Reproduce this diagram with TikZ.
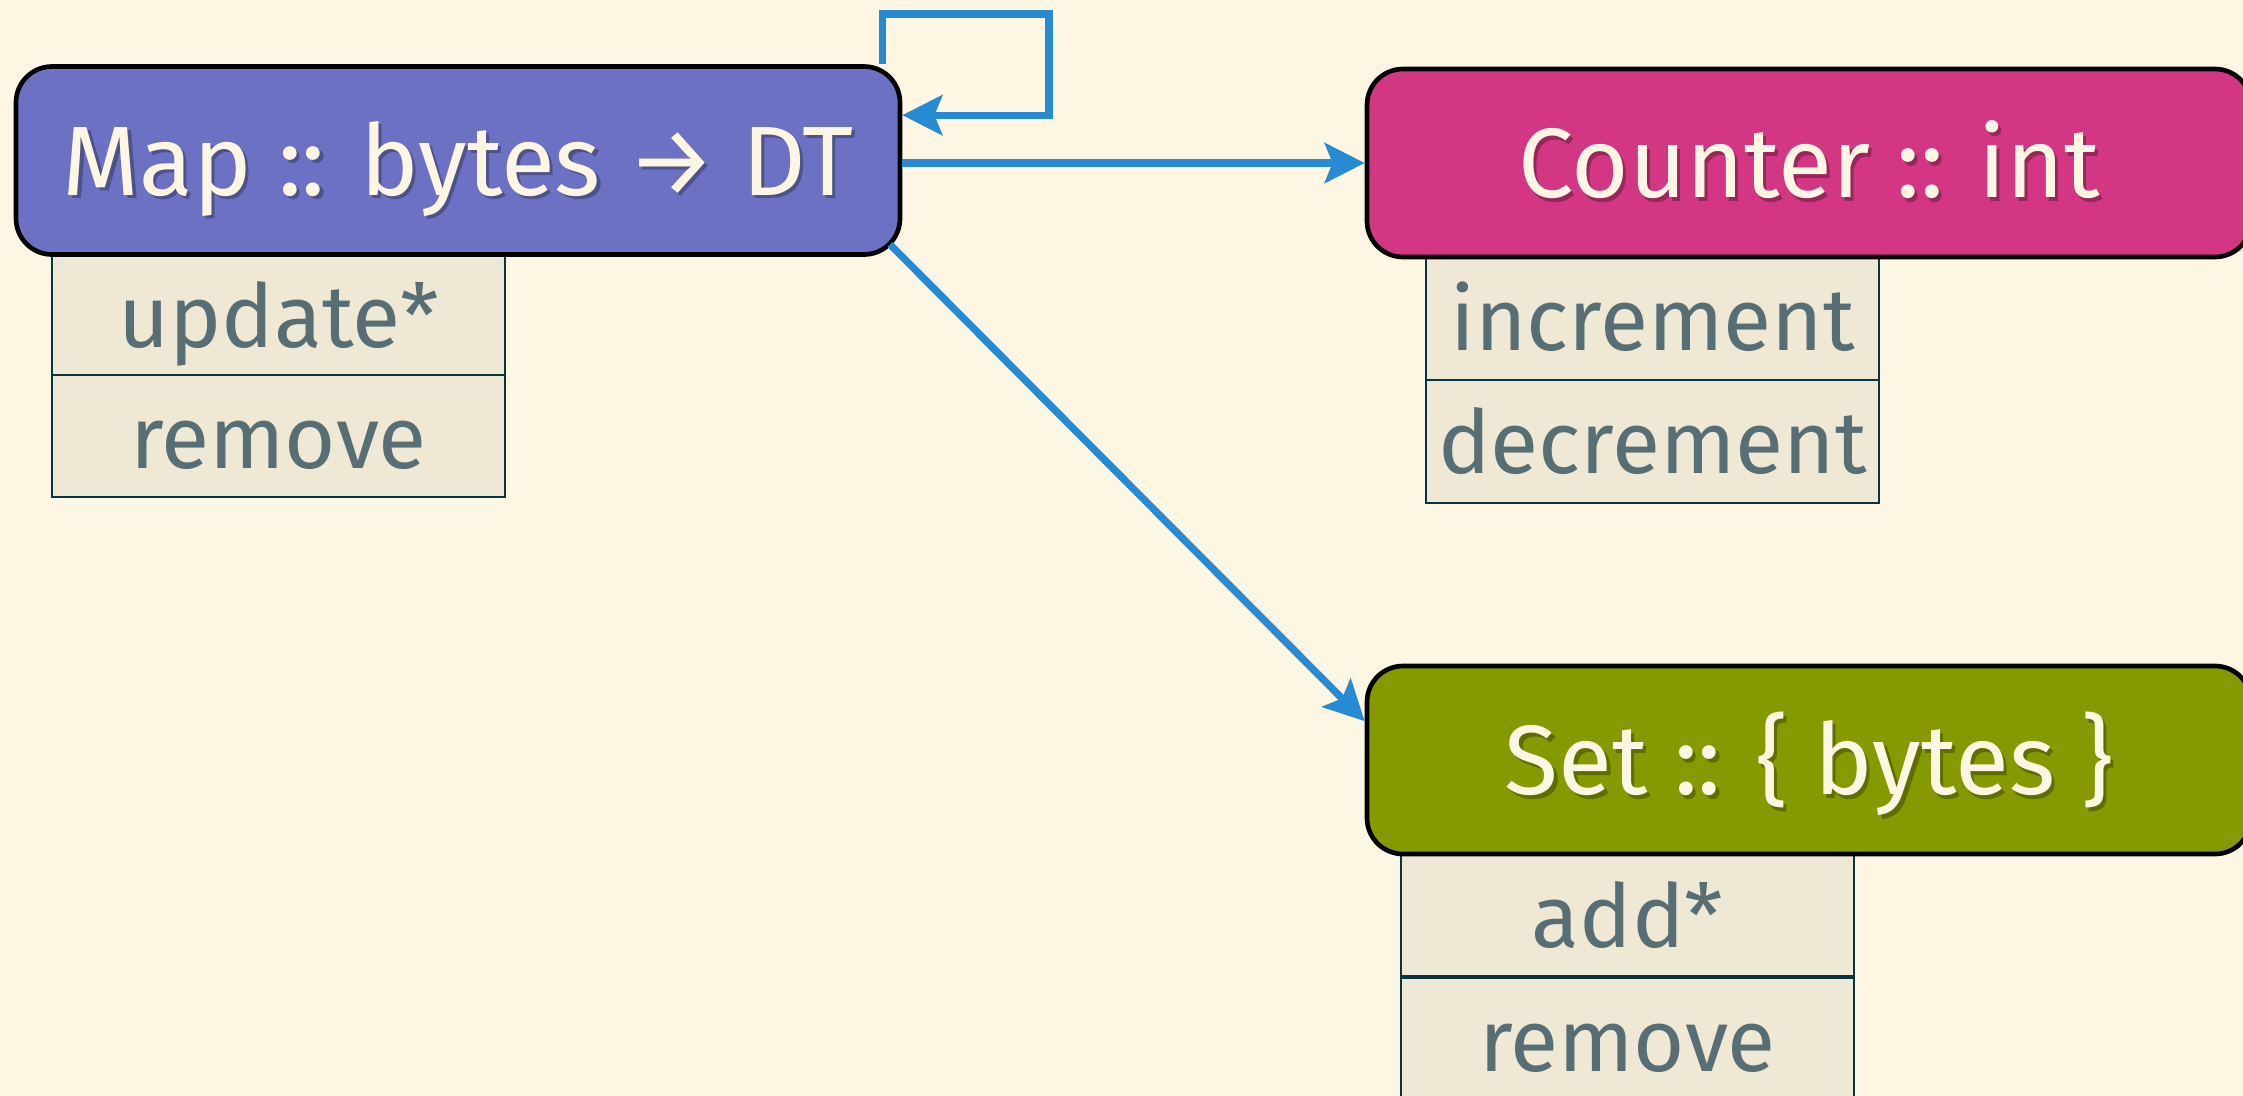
\documentclass[tikz,border=0pt]{standalone}
\usepackage{fontspec}
\setmainfont{Fira Sans}
\usetikzlibrary{arrows.meta}

\definecolor{base3}{HTML}{FDF6E3}
\definecolor{base2}{HTML}{EEE8D5}
\definecolor{base01}{HTML}{586E75}
\definecolor{base02}{HTML}{073642}
\definecolor{sblue}{HTML}{268BD2}
\definecolor{sviolet}{HTML}{6C71C4}
\definecolor{smagenta}{HTML}{D33682}
\definecolor{sgreen}{HTML}{859900}

\tikzset{every picture/.style={line width=0.75pt}}
\tikzset{
	typebox/.style={draw=black, line width=3.5pt, rounded corners=27pt,
		minimum width=663pt, minimum height=141pt, inner sep=0pt},
	typetext/.style={text=base3, font=\fontsize{74}{88}\selectfont,
		text height=66pt, text depth=14pt, inner sep=0pt},
	typeshade/.style={typetext, text=black, text opacity=0.28},
	opbox/.style={draw=base02, fill=base2, line width=1.5pt,
		minimum width=340pt, minimum height=92pt, inner sep=0pt, text=base01,
		font=\fontsize{66}{78}\selectfont, text height=62pt, text depth=14pt},
	flow/.style={draw=sblue, line width=5.5pt,
		-{Stealth[length=30pt,width=30pt,inset=6pt]}}
}

\begin{document}
\begin{tikzpicture}[x=0.75pt,y=0.75pt,yscale=-1,xscale=1]
	%Shape: Background
	\fill[base3] (0,0) rectangle (2243,1096);
	\useasboundingbox (0,0) rectangle (2243,1096);

	% Operation boxes (under the type boxes)
	\node[opbox] (mapupd) at (278.5,315) {update*};
	\node[opbox] (maprem) at (278.5,436) {remove};
	\node[opbox] (cntinc) at (1652.5,318.5) {increment};
	\node[opbox] (cntdec) at (1652.5,441.5) {decrement};
	\node[opbox] (setadd) at (1627.5,915) {add*};
	\node[opbox] (setrem) at (1627.5,1039) {remove};

	%Shape: Rounded Rectangle
	\node[typebox, fill=sviolet] (map) at (458,160.5) {};
	\node[typeshade] at ([shift={(2.5pt,2.5pt)}]map.center) {Map :: bytes → DT};
	\node[typetext] at (map.center) {Map :: bytes → DT};
	%Shape: Rounded Rectangle
	\node[typebox, fill=smagenta] (counter) at (1809,163) {};
	\node[typeshade] at ([shift={(2.5pt,2.5pt)}]counter.center) {Counter :: int};
	\node[typetext] at (counter.center) {Counter :: int};
	%Shape: Rounded Rectangle
	\node[typebox, fill=sgreen] (set) at (1809,760) {};
	\node[typeshade] at ([shift={(2.5pt,2.5pt)}]set.center) {Set :: \{ bytes \}};
	\node[typetext] at (set.center) {Set :: \{ bytes \}};

	%Straight Lines
	\coordinate (loopturn) at (1049,14);
	\draw[flow] ([xshift=-15pt]map.north east) |- (loopturn) |- ([yshift=-34pt]map.east);
	\draw[flow] (counter.west -| map.east) -- (counter.west);
	\draw[flow, shorten <=-13pt] (map.south east) -- (set.175);

\end{tikzpicture}
\end{document}
